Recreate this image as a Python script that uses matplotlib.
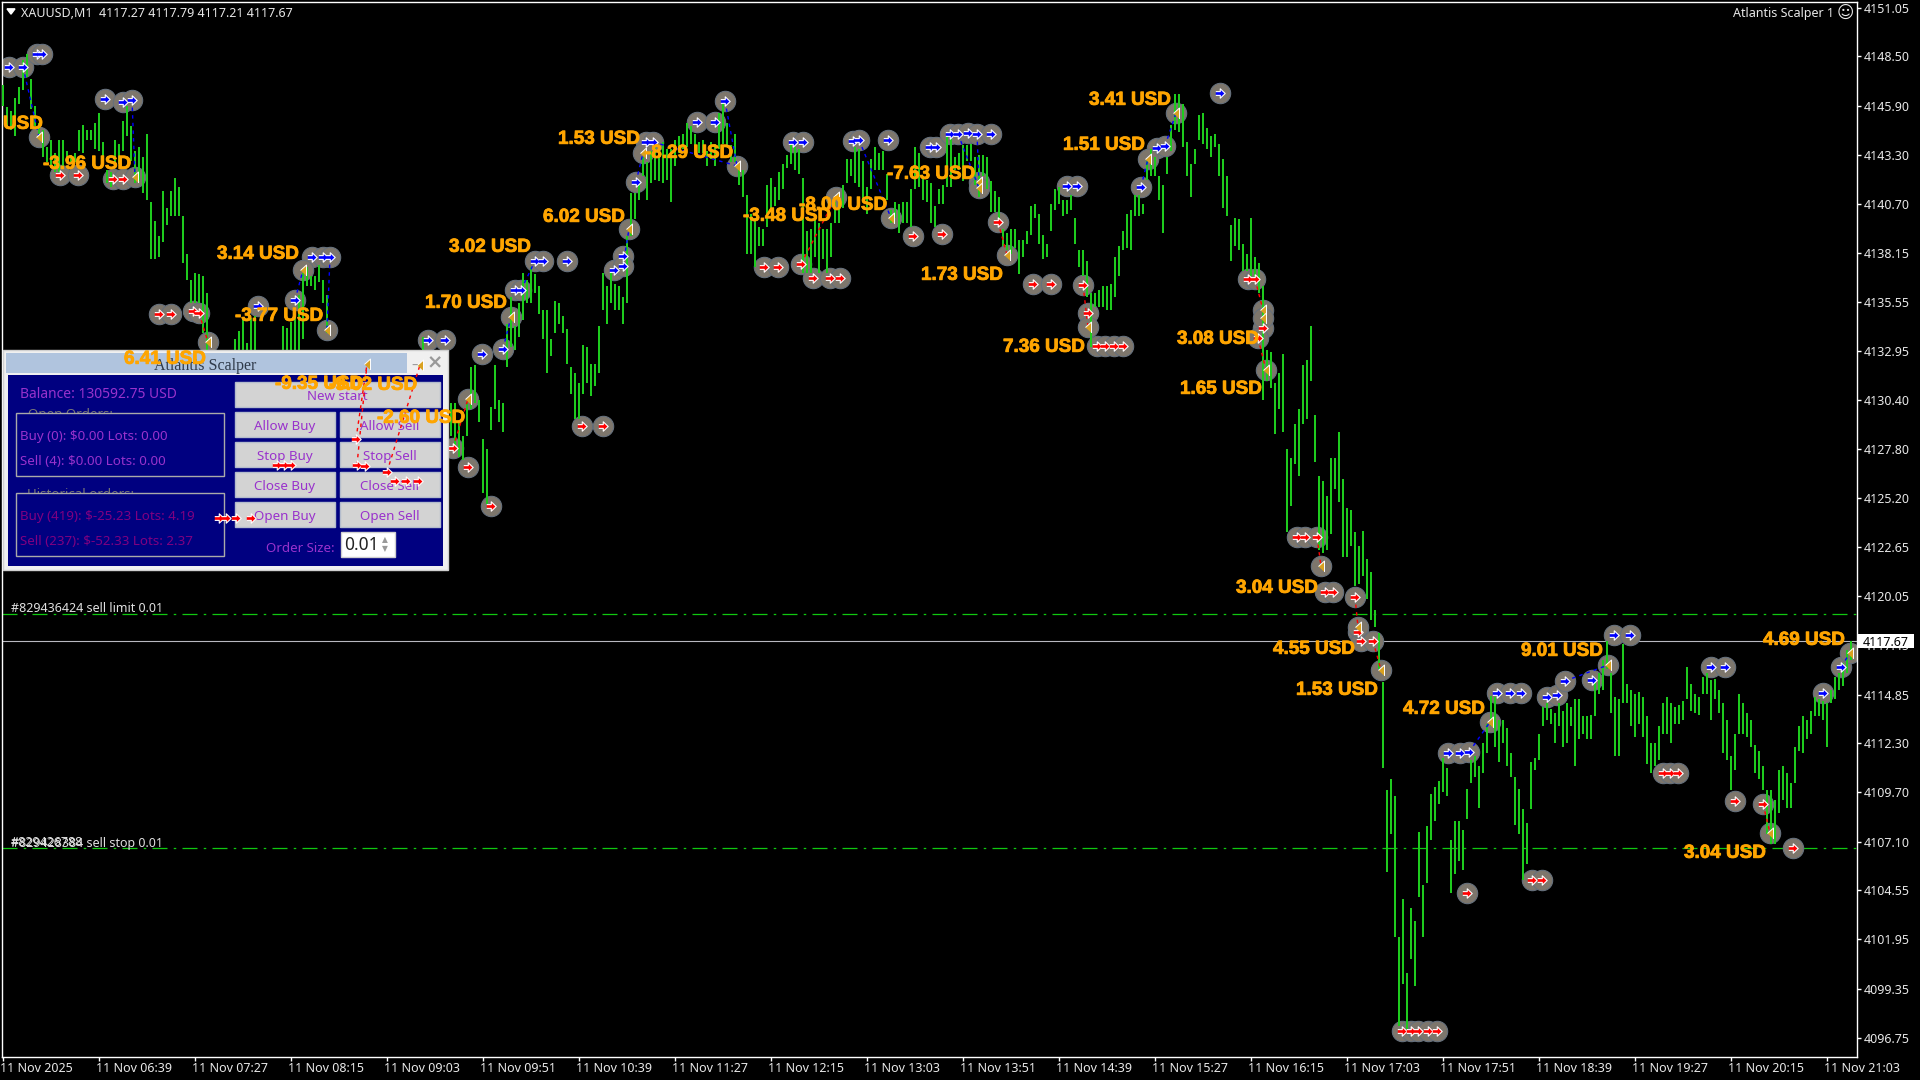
import numpy as np
import matplotlib
matplotlib.use('Agg')
import matplotlib.pyplot as plt
import matplotlib.patheffects as pe
from matplotlib.patches import Rectangle
from matplotlib.transforms import Affine2D, ScaledTranslation

plt.rcParams['font.family'] = ['Noto Sans', 'DejaVu Sans']

nan = np.nan

# highs and lows, one reading for every 2 minute bars
bar_high = [4147.0, 4145.8, 4145.6, 4146.3, 4146.9, 4148.3, 4148.6, 4147.3, 4145.9, 4145.0,
            4144.6, 4143.7, 4144.1, 4143.4, 4144.1, 4144.1, 4143.5, 4143.3, 4143.4, 4144.6,
            4144.9, 4144.6, 4144.6, 4145.0, 4145.5, 4144.0, 4142.5, 4142.4, 4144.1, 4143.9,
            4145.1, 4145.9, 4144.8, 4143.5, 4143.7, 4143.2, 4144.4, 4140.8, 4139.8, 4139.0,
            4141.4, 4140.5, 4141.4, 4142.1, 4141.6, 4140.1, 4138.1, 4136.7, 4137.1, 4137.0,
            4136.9, 4136.0] + [nan] * 6 + [
            4133.6, 4134.0, 4134.7, 4133.4, 4134.7, 4134.8] + [nan] * 6 + [
            4134.3, 4134.2, 4134.5, 4134.8, 4135.9, 4137.1, 4137.4, 4136.9, 4136.9, 4137.5,
            4136.7, 4135.9] + [nan] * 23 + [4133.7] + [nan] * 6 + [
            4130.2, 4130.2, 4129.2, 4128.5, 4130.2, 4132.1, 4132.2, 4130.4, 4128.3, 4127.8,
            4130.0, 4132.2, 4130.4, 4130.2, 4134.4, 4135.8, 4134.3, 4135.5, 4137.1, 4136.7,
            4137.4, 4137.0, 4136.4, 4135.1, 4135.1, 4133.6, 4135.6, 4135.5, 4134.8, 4134.1,
            4132.1, 4131.8, 4131.3, 4133.3, 4133.2, 4132.3, 4132.3, 4134.3, 4137.1, 4136.4,
            4137.2, 4136.5, 4136.4, 4135.8, 4139.0, 4141.3, 4141.3, 4142.0, 4143.2, 4142.9,
            4143.5, 4143.7, 4143.8, 4144.0, 4143.6, 4143.6, 4144.1, 4144.3, 4144.4, 4145.0,
            4144.8, 4144.4, 4144.0, 4144.1, 4143.5, 4144.0, 4143.9, 4145.5, 4146.0, 4145.0,
            4143.8, 4144.4, 4142.7, 4142.5, 4141.2, 4140.2, 4140.0, 4139.5, 4139.4, 4141.7,
            4142.1, 4141.6, 4142.4, 4142.8, 4143.3, 4144.1, 4143.7, 4143.6, 4142.1, 4139.3,
            4139.4, 4139.9, 4139.7, 4139.4, 4139.4, 4139.7, 4140.8, 4141.0, 4141.7, 4143.1,
            4143.1, 4143.7, 4143.6, 4143.0, 4141.6, 4143.1, 4143.7, 4143.4, 4143.5, 4142.3,
            4140.4, 4140.8, 4140.7, 4140.8, 4140.8, 4141.5, 4143.7, 4143.4, 4142.2, 4142.0,
            4141.8, 4140.6,
            4141.5, 4141.7, 4144.3, 4144.2, 4143.2, 4143.4, 4143.8, 4143.8, 4143.9, 4143.2,
            4143.3, 4143.3, 4143.2, 4141.9, 4141.4, 4141.1, 4139.4, 4139.2, 4139.4, 4139.4,
            4138.8, 4138.8, 4139.3, 4140.6, 4140.7, 4140.2, 4139.1, 4138.6, 4140.7, 4141.5,
            4141.6, 4140.9, 4140.9, 4141.2, 4140.0, 4138.3, 4138.3, 4137.7, 4136.0, 4136.0,
            4136.2, 4136.4, 4136.4, 4136.5, 4137.9, 4138.5, 4139.3, 4140.2, 4140.4, 4141.2,
            4141.2, 4140.7, 4143.0, 4143.6, 4143.2, 4142.2, 4141.7, 4143.2, 4144.9, 4146.5,
            4146.5, 4146.0, 4144.0, 4142.8, 4143.6, 4145.4, 4145.5, 4144.7, 4144.3, 4144.4,
            4143.9, 4143.1, 4142.2, 4139.6, 4140.0, 4139.9, 4138.6, 4138.1, 4140.0, 4137.9,
            4137.6, 4136.4,
            4133.0, 4132.9, 4131.3, 4131.8, 4132.8, 4127.8, 4127.3, 4129.1, 4129.9, 4132.2,
            4132.5, 4134.3, 4129.6, 4126.4, 4126.1, 4125.3, 4127.3, 4127.3, 4128.7, 4126.2,
            4124.7, 4124.6, 4123.4, 4122.7, 4123.5, 4122.0, 4121.3, 4119.3, 4118.1,
            4115.5, 4109.8, 4110.4, 4109.5, 4102.1, 4104.1, 4100.2, 4103.6, 4102.9, 4107.6,
            4104.8, 4107.9, 4109.6, 4110.0, 4110.3, 4111.5, 4111.0, 4107.2, 4108.2, 4108.2,
            4107.7, 4109.9, 4111.4, 4111.6, 4111.1, 4112.3, 4113.3, 4114.8, 4114.7, 4113.5,
            4113.5, 4113.1, 4111.8, 4110.5, 4109.9, 4108.8, 4108.1, 4111.3, 4111.5, 4112.8,
            4114.2, 4114.4, 4114.1, 4113.9, 4114.4, 4114.0, 4114.4, 4114.2, 4114.6, 4114.6,
            4113.7, 4113.7, 4113.8, 4115.6,
            4116.0, 4116.7, 4117.7, 4116.0, 4114.7, 4114.6, 4117.5, 4115.4, 4115.1, 4114.9,
            4115.0, 4114.7, 4113.7, 4112.3, 4112.3, 4113.2, 4114.4, 4114.7, 4114.4, 4114.2,
            4114.3, 4114.5, 4116.3, 4115.4, 4114.9, 4114.7, 4115.8, 4116.0, 4115.6, 4115.7,
            4115.1, 4114.4, 4113.5, 4111.6, 4112.8, 4114.9, 4114.4, 4113.9, 4113.5, 4112.2,
            4111.9, 4111.1, 4109.8, 4109.8, 4109.3, 4110.9, 4111.1, 4110.7, 4110.2, 4112.1,
            4113.2, 4113.7, 4113.5, 4114.0, 4114.7, 4114.6, 4114.5, 4114.4, 4115.1, 4115.8,
            4116.0, 4116.5, 4117.2, 4117.7]

bar_low = [4145.9, 4144.7, 4144.6, 4144.3, 4146.0, 4146.7, 4147.4, 4145.7, 4144.8, 4144.3,
           4143.2, 4142.9, 4142.6, 4142.4, 4142.4, 4142.7, 4142.9, 4142.8, 4142.9, 4143.5,
           4143.4, 4144.1, 4144.1, 4143.6, 4143.5, 4143.0, 4141.8, 4141.6, 4142.9, 4142.8,
           4143.5, 4144.3, 4143.0, 4141.8, 4141.9, 4141.3, 4140.9, 4137.8, 4137.8, 4137.9,
           4138.7, 4139.6, 4140.1, 4140.1, 4140.1, 4137.6, 4136.7, 4135.5, 4135.5, 4135.5,
           4133.9, 4133.0] + [nan] * 6 + [
           4131.0, 4131.0, 4131.0, 4131.0, 4131.0, 4131.0] + [nan] * 6 + [
           4131.0, 4131.0, 4131.0, 4131.0, 4131.0, 4133.6, 4136.4, 4136.4, 4136.2, 4136.6,
           4135.5, 4133.9] + [nan] * 23 + [4131.0] + [nan] * 6 + [
           4128.5, 4127.9, 4127.4, 4127.2, 4128.5, 4129.9, 4130.2, 4129.2, 4125.5, 4124.9,
           4128.8, 4129.9, 4129.2, 4128.7, 4132.1, 4133.2, 4133.0, 4133.7, 4134.6, 4135.5,
           4135.5, 4136.0, 4134.9, 4133.6, 4131.8, 4132.7, 4133.9, 4134.4, 4133.9, 4132.3,
           4130.7, 4129.4, 4129.4, 4130.7, 4131.3, 4130.6, 4131.1, 4131.8, 4135.1, 4134.4,
           4135.5, 4135.1, 4135.1, 4134.4, 4135.5, 4139.0, 4139.9, 4140.9, 4142.2, 4140.9,
           4141.8, 4142.0, 4141.9, 4141.8, 4142.0, 4140.8, 4142.7, 4143.4, 4143.6, 4143.7,
           4143.9, 4143.7, 4143.4, 4143.4, 4142.7, 4143.1, 4142.7, 4143.6, 4143.9, 4143.7,
           4142.9, 4142.9, 4141.7, 4141.1, 4138.1, 4138.1, 4137.4, 4138.5, 4138.5, 4139.5,
           4140.4, 4140.6, 4140.9, 4141.5, 4142.6, 4142.8, 4142.5, 4142.3, 4137.1, 4137.1,
           4137.1, 4137.9, 4137.1, 4137.8, 4137.1, 4137.9, 4139.7, 4139.7, 4140.5, 4141.8,
           4142.2, 4141.8, 4141.6, 4140.8, 4140.2, 4141.5, 4142.5, 4142.5, 4142.5, 4140.9,
           4139.7, 4140.0, 4139.2, 4139.7, 4139.7, 4139.5, 4141.5, 4141.6, 4140.9, 4140.8,
           4139.7, 4139.5,
           4140.7, 4140.7, 4141.6, 4141.6, 4142.5, 4142.5, 4141.9, 4143.0, 4143.0, 4141.7,
           4141.1, 4142.2, 4141.5, 4140.3, 4140.3, 4139.7, 4138.5, 4138.3, 4138.1, 4138.4,
           4137.0, 4137.9, 4138.6, 4139.1, 4140.0, 4138.6, 4137.8, 4137.9, 4139.3, 4140.4,
           4140.7, 4140.1, 4140.2, 4140.4, 4138.6, 4137.4, 4136.9, 4135.8, 4133.2, 4135.3,
           4135.3, 4135.3, 4135.1, 4135.1, 4135.8, 4136.9, 4138.3, 4138.4, 4138.3, 4140.1,
           4140.1, 4140.2, 4142.0, 4142.2, 4142.2, 4140.9, 4139.2, 4142.3, 4143.5, 4144.6,
           4144.5, 4143.7, 4142.2, 4141.1, 4142.8, 4144.1, 4143.9, 4143.6, 4143.2, 4143.7,
           4142.2, 4140.5, 4140.1, 4137.7, 4138.5, 4138.3, 4137.2, 4137.2, 4136.9, 4136.7,
           4136.0, 4130.4,
           4131.4, 4131.0, 4128.6, 4129.9, 4128.7, 4123.4, 4124.8, 4127.0, 4126.4, 4129.1,
           4129.4, 4131.4, 4127.1, 4122.5, 4122.3, 4122.5, 4123.3, 4125.7, 4125.0, 4122.1,
           4122.1, 4122.7, 4120.6, 4120.7, 4121.1, 4119.9, 4118.8, 4118.4, 4116.2,
           4111.0, 4105.5, 4107.5, 4102.1, 4097.4, 4099.6, 4097.2, 4100.9, 4099.5, 4104.2,
           4102.1, 4104.9, 4107.2, 4108.2, 4109.1, 4109.7, 4109.5, 4104.4, 4105.4, 4106.1,
           4105.6, 4108.3, 4110.2, 4110.5, 4108.9, 4110.7, 4111.8, 4113.2, 4112.1, 4111.3,
           4112.3, 4111.1, 4110.5, 4108.0, 4107.5, 4105.1, 4105.9, 4108.8, 4110.9, 4111.4,
           4113.2, 4113.5, 4113.3, 4112.3, 4113.2, 4112.1, 4112.3, 4113.2, 4111.1, 4112.5,
           4112.8, 4112.5, 4112.5, 4113.7,
           4114.9, 4115.1, 4116.2, 4113.9, 4111.6, 4111.6, 4114.4, 4114.4, 4113.2, 4112.6,
           4113.3, 4112.6, 4111.2, 4110.7, 4111.1, 4111.4, 4112.8, 4112.8, 4112.3, 4113.3,
           4113.3, 4113.5, 4114.6, 4114.0, 4113.9, 4113.8, 4114.9, 4114.9, 4113.5, 4114.6,
           4113.9, 4111.8, 4111.4, 4109.8, 4110.9, 4112.8, 4112.8, 4112.6, 4112.1, 4110.7,
           4110.4, 4109.8, 4107.5, 4107.0, 4107.0, 4108.6, 4109.3, 4108.9, 4108.9, 4110.2,
           4111.9, 4111.8, 4112.5, 4112.8, 4113.7, 4113.7, 4113.5, 4112.1, 4114.4, 4114.6,
           4115.1, 4115.3, 4116.0, 4116.7]

# trade arrows: minute index from the left edge, price
buy_x = [3, 10, 17, 19.5, 51, 60, 64.5, 127.5, 146, 154.5, 160, 163.5, 212.5, 221, 239.5, 250, 256, 259,
         266, 270, 282, 305.5, 310, 310, 316.5, 321.5, 325, 347, 356, 361, 395, 400, 425, 428, 442.5,
         463.5, 466.5, 473.5, 477.5, 482.5, 487, 494, 532, 537, 569, 577, 581, 608.5, 722.5, 728.5, 733,
         747, 753.5, 759, 772, 777, 781, 794.5, 805.5, 813.5, 854, 861, 910, 919]
buy_y = [4147.94, 4147.94, 4148.62, 4148.62, 4146.25, 4146.09, 4146.2, 4135.34, 4135.65, 4137.92, 4137.92,
         4137.92, 4133.55, 4133.55, 4132.81, 4133.07, 4136.18, 4136.18, 4137.71, 4137.71, 4137.71, 4137.23,
         4137.97, 4137.45, 4141.87, 4143.98, 4143.98, 4145.04, 4145.04, 4146.14, 4143.98, 4143.98, 4144.03,
         4144.09, 4144.09, 4143.72, 4143.72, 4144.4, 4144.4, 4144.45, 4144.4, 4144.4, 4141.66, 4141.66,
         4141.61, 4143.67, 4143.77, 4146.57, 4111.77, 4111.77, 4111.82, 4114.94, 4114.94, 4114.94, 4114.73,
         4114.83, 4115.57, 4115.62, 4117.99, 4117.99, 4116.31, 4116.31, 4114.94, 4116.31]
sell_x = [28.5, 37.5, 55, 60, 78, 84, 95, 98, 225, 232.5, 244, 289.5, 300, 380.5, 387.5, 399, 405, 413.5,
          418.5, 455, 469.5, 497.5, 515, 524, 540, 542.5, 547, 551, 555.5, 560, 622.5, 626, 630, 627.5,
          647, 651, 657, 661, 665, 676, 677.5, 679, 685, 699.5, 704, 707.5, 712.5, 717, 732, 764.5, 769.5,
          830, 833.5, 837.5, 866, 880, 895]
sell_y = [4142.24, 4142.24, 4142.03, 4142.03, 4134.92, 4134.92, 4135.07, 4134.97, 4127.85, 4126.85, 4124.79,
          4129.01, 4129.01, 4137.39, 4137.39, 4137.55, 4136.81, 4136.81, 4136.81, 4139.03, 4139.13, 4139.77,
          4136.5, 4136.5, 4136.44, 4134.97, 4133.23, 4133.23, 4133.23, 4133.23, 4136.76, 4136.76, 4134.18,
          4133.65, 4123.16, 4123.16, 4123.16, 4120.26, 4120.26, 4120.0, 4118.15, 4117.68, 4117.68, 4097.12,
          4097.12, 4097.12, 4097.12, 4097.12, 4104.39, 4105.08, 4105.08, 4110.72, 4110.72, 4110.72, 4109.24,
          4109.09, 4106.77]
close_x = [18, 66, 102.5, 150, 162, 232.5, 254, 313, 320, 367, 416.5, 444, 488, 488, 502, 542.5, 572.5, 586.5,
           630, 630, 631.5, 659, 677.5, 689, 743.5, 802.5, 883.5, 923.5]
close_y = [4144.25, 4142.14, 4133.44, 4137.23, 4134.07, 4130.43, 4134.76, 4139.4, 4143.4, 4142.72, 4141.08,
           4139.98, 4141.87, 4141.56, 4138.03, 4134.23, 4143.09, 4145.51, 4135.13, 4134.7, 4131.96, 4121.63,
           4118.42, 4116.15, 4113.41, 4116.41, 4107.56, 4117.05]

# these ones show on top of the panel, without their circle
sell_top_x = [108, 111.5, 116.5, 124, 137, 140.5, 144, 176.5, 177, 181, 192, 196, 201.5, 207.5]
sell_top_y = [4124.16, 4124.16, 4124.16, 4124.16, 4126.96, 4126.96, 4126.96, 4128.33, 4126.96, 4126.9,
              4126.59, 4126.11, 4126.11, 4126.11]
close_top_x = [182, 208.5]
close_top_y = [4132.28, 4132.23]
panel_links = [(176.5, 4128.33, 182, 4132.28), (177, 4126.96, 182, 4132.28), (192, 4126.59, 208.5, 4132.23)]

# dashed lines from open to close
buy_links = [(10, 4147.94, 18, 4144.25), (64.5, 4146.2, 66, 4142.14), (146, 4135.65, 150, 4137.23),
             (163.5, 4137.92, 162, 4134.07), (250, 4133.07, 254, 4134.76), (259, 4136.18, 266, 4137.71),
             (310, 4137.45, 313, 4139.4), (316.5, 4141.87, 320, 4143.4), (325, 4143.98, 367, 4142.72),
             (361, 4146.14, 367, 4142.72), (428, 4144.09, 444, 4139.98), (477.5, 4144.4, 488, 4141.56),
             (487, 4144.4, 488, 4141.87), (569, 4141.61, 572.5, 4143.09), (581, 4143.77, 586.5, 4145.51),
             (733, 4111.82, 743.5, 4113.41), (781, 4115.57, 802.5, 4116.41), (919, 4116.31, 923.5, 4117.05)]
sell_links = [(98, 4134.97, 102.5, 4133.44), (225, 4127.85, 232.5, 4130.43), (399, 4137.55, 416.5, 4141.08),
              (497.5, 4139.77, 502, 4138.03), (540, 4136.44, 542.5, 4134.23), (626, 4136.76, 630, 4135.13),
              (627.5, 4133.65, 631.5, 4131.96), (657, 4123.16, 659, 4121.63), (676, 4120.0, 677.5, 4118.42),
              (685, 4117.68, 689, 4116.15), (880, 4109.09, 883.5, 4107.56)]

price_now = 4117.67
sell_limit = 4119.09
sell_stop = 4106.77

price_ticks = [4151.05, 4148.50, 4145.90, 4143.30, 4140.70, 4138.15, 4135.55, 4132.95, 4130.40, 4127.80, 4125.20,
               4122.65, 4120.05, 4117.45, 4114.85, 4112.30, 4109.70, 4107.10, 4104.55, 4101.95, 4099.35, 4096.75]
time_labels = ['11 Nov 2025', '11 Nov 06:39', '11 Nov 07:27', '11 Nov 08:15', '11 Nov 09:03', '11 Nov 09:51',
               '11 Nov 10:39', '11 Nov 11:27', '11 Nov 12:15', '11 Nov 13:03', '11 Nov 13:51', '11 Nov 14:39',
               '11 Nov 15:27', '11 Nov 16:15', '11 Nov 17:03', '11 Nov 17:51', '11 Nov 18:39', '11 Nov 19:27',
               '11 Nov 20:15', '11 Nov 21:03']

# profit labels: text, left edge px, middle px
profit_labels = [('-3.96 USD', 43, 162), ('3.14 USD', 217, 252), ('-3.77 USD', 235, 314), ('6.41 USD', 124, 357),
                 ('-9.35 USD', 275, 382), ('-9.02 USD', 329, 383), ('-2.60 USD', 377, 416), ('3.02 USD', 449, 245),
                 ('1.70 USD', 425, 301), ('1.53 USD', 558, 137), ('6.02 USD', 543, 215), ('-8.29 USD', 645, 151),
                 ('-3.48 USD', 743, 214), ('-8.00 USD', 799, 203), ('-7.63 USD', 887, 172), ('1.73 USD', 921, 273),
                 ('1.51 USD', 1063, 143), ('3.41 USD', 1089, 98), ('7.36 USD', 1003, 345), ('3.08 USD', 1177, 337),
                 ('1.65 USD', 1180, 387), ('3.04 USD', 1236, 586), ('4.55 USD', 1273, 647), ('1.53 USD', 1296, 688),
                 ('4.72 USD', 1403, 707), ('9.01 USD', 1521, 649), ('4.69 USD', 1763, 638), ('3.04 USD', 1684, 851)]

fig = plt.figure(figsize=(19.2, 10.8), dpi=100, facecolor='black')
ax = fig.add_axes([2 / 1920, 1 - 1057 / 1080, 1855 / 1920, 1055 / 1080], facecolor='black')
ax.set_xlim(-0.5, 927)
ax.set_ylim(4095.75, 4151.36)

# panel and labels are laid out in screen pixels
px = Affine2D().scale(1, -1).translate(0, 1080)

GREEN = '#1ecb1e'
ax.axhline(sell_limit, color='#10c810', lw=0.9, ls=(0, (12, 5, 2, 5)), zorder=1)
ax.axhline(sell_stop, color='#10c810', lw=0.9, ls=(0, (12, 5, 2, 5)), zorder=1)
ax.axhline(price_now, color='#b8b8c0', lw=0.8, zorder=1)

# grey discs sit under the bars, arrows above
disc = dict(s=215, c='#7d766c', edgecolors='#66707c', linewidths=0.8, zorder=2)
ax.scatter(buy_x, buy_y, **disc)
ax.scatter(sell_x, sell_y, **disc)
ax.scatter(close_x, close_y, **disc)

bar_x = np.arange(len(bar_high)) * 2
ax.vlines(bar_x, bar_low, bar_high, color=GREEN, lw=1.44, zorder=3, antialiased=False)

for x0, y0, x1, y1 in buy_links:
    ax.plot([x0, x1], [y0, y1], color='#0000ff', lw=1, ls=(0, (2.5, 3)), zorder=4)
for x0, y0, x1, y1 in sell_links:
    ax.plot([x0, x1], [y0, y1], color='#ff0000', lw=1, ls=(0, (2.5, 3)), zorder=4)

arrow = [(-1, 0.4), (-0.05, 0.4), (-0.05, 1), (1, 0), (-0.05, -1), (-0.05, -0.4), (-1, -0.4)]
tri = [(-0.55, 0), (0.55, 1), (0.55, -1)]
ARROW = dict(marker=arrow, s=46, edgecolors='white', linewidths=0.8)
TRI = dict(marker=tri, s=62, c='#d9a11f', edgecolors='white', linewidths=0.7)
ax.scatter(buy_x, buy_y, c='#0000ff', zorder=5, **ARROW)
ax.scatter(sell_x, sell_y, c='#ff0000', zorder=5, **ARROW)
ax.scatter(close_x, close_y, zorder=5, **TRI)


def box(x0, y0, x1, y1, face, edge='none', z=6, lw=1):
    ax.add_patch(Rectangle((x0, y0), x1 - x0, y1 - y0, transform=px, facecolor=face, edgecolor=edge,
                           lw=lw, zorder=z, clip_on=False))


def write(x, y, s, color, size=9.6, ha='left', z=8, **kw):
    # y is the middle of the capitals
    base = y + size * 100 / 72 * 0.36
    return ax.text(x, base, s, transform=px, color=color, fontsize=size, ha=ha, va='baseline', zorder=z,
                   clip_on=False, **kw)


def glyph(x, y, s, color, size, family='DejaVu Sans', **kw):
    ax.text(x, y, s, transform=px, color=color, fontsize=size, ha='center', va='center', zorder=8,
            clip_on=False, family=family, **kw)


# Atlantis Scalper window
ORCHID = '#9932cc'
PURPLE = '#800080'
box(3, 350, 448, 570, '#f0f0f0', '#d0d0d0')
box(6, 353, 407, 373, '#b0c4de', z=7)
write(205, 364, 'Atlantis Scalper', '#2f3a4a', size=11.5, ha='center', family='Liberation Serif')
glyph(415, 366, '\u2013', '#999999', 10)
glyph(435, 363, '\u00d7', '#999999', 14, fontweight='bold')
box(8, 375, 443, 566, '#000080', z=6.5)
write(20, 393, 'Balance: 130592.75 USD', ORCHID, size=10)
write(28, 413, 'Open Orders:', '#777777', z=7)
write(27, 493, 'Historical orders:', '#777777', z=7)
box(15.5, 412.5, 224, 476, '#000080', '#a9a9a9', z=7.5)
box(15.5, 492.5, 224, 556, '#000080', '#a9a9a9', z=7.5)
write(20, 435, 'Buy (0): $0.00 Lots: 0.00', ORCHID)
write(20, 460, 'Sell (4): $0.00 Lots: 0.00', ORCHID)
write(20, 515, 'Buy (419): $-25.23 Lots: 4.19', PURPLE)
write(20, 540, 'Sell (237): $-52.33 Lots: 2.37', PURPLE)

buttons = [('New start', 235, 382, 440, 407), ('Allow Buy', 235, 412, 335, 437), ('Allow Sell', 340, 412, 440, 437),
           ('Stop Buy', 235, 442, 335, 467), ('Stop Sell', 340, 442, 440, 467), ('Close Buy', 235, 472, 335, 497),
           ('Close Sell', 340, 472, 440, 497), ('Open Buy', 235, 502, 335, 527), ('Open Sell', 340, 502, 440, 527)]
for name, x0, y0, x1, y1 in buttons:
    box(x0, y0, x1, y1, '#d3d3d3', '#b4bccc', z=7)
    write((x0 + x1) / 2, (y0 + y1) / 2 + 0.5, name, ORCHID, ha='center')

write(335, 547, 'Order Size:', ORCHID, ha='right')
box(341, 532, 395, 557, 'white', '#d0d0d0', z=7)
write(344, 544, '0.01', '#222222', size=12.5)
glyph(385, 540, '\u25b2', '#999999', 5.5)
glyph(385, 549, '\u25bc', '#999999', 5.5)

# drawn over the window
for x0, y0, x1, y1 in panel_links:
    ax.plot([x0, x1], [y0, y1], color='#ff0000', lw=1, ls=(0, (2.5, 3)), zorder=9)
ax.scatter(sell_top_x, sell_top_y, c='#ff0000', zorder=9, **ARROW)
ax.scatter(close_top_x, close_top_y, zorder=9, **TRI)

ORANGE = '#ffa500'
thick = [pe.withStroke(linewidth=0.6, foreground=ORANGE)]
for text, left, mid in profit_labels:
    write(left, mid, text, ORANGE, size=13.6, z=10, fontweight='bold', family='Liberation Sans', path_effects=thick)
write(3, 122, 'USD', ORANGE, size=13.6, z=10, fontweight='bold', family='Liberation Sans', path_effects=thick)

# chart header and order labels
ax.fill([2, 6, 4], [4151.0, 4151.0, 4150.72], color='white', zorder=8)
write(21, 12.5, 'XAUUSD,M1  4117.27 4117.79 4117.21 4117.67', '#e8e8e8', size=9)
write(1834, 13, 'Atlantis Scalper 1', '#e8e8e8', size=9, ha='right')
glyph(1845, 13, '\u263a', '#e8e8e8', 12)
write(11, 607, '#829436424 sell limit 0.01', '#e0e0e0', size=9)
write(11, 842, '#829426788', '#e0e0e0', size=9)
write(11, 842, '#829428384 sell stop 0.01', '#e0e0e0', size=9)

# axes
ax.yaxis.tick_right()
ax.set_yticks(price_ticks)
ax.set_yticklabels(['%.2f' % p for p in price_ticks])
ax.set_xticks(np.arange(len(time_labels)) * 48)
ax.set_xticklabels(time_labels, ha='left')
ax.tick_params(colors='white', labelcolor='#e8e8e8', labelsize=9, length=3, width=1)
ax.tick_params(axis='x', pad=0.6)
ax.tick_params(axis='y', pad=2)
nudge = ScaledTranslation(-2 / 72, 0, fig.dpi_scale_trans)
for lab in ax.get_xticklabels():
    lab.set_transform(lab.get_transform() + nudge)
for spine in ax.spines.values():
    spine.set_color('white')
    spine.set_linewidth(1)

# last price tag
box(1858, 634, 1914, 648, 'white', z=11)
write(1886, 641, '%.2f' % price_now, 'black', size=9, ha='center', z=12)

fig.savefig('out.png', dpi=100, facecolor='black')
